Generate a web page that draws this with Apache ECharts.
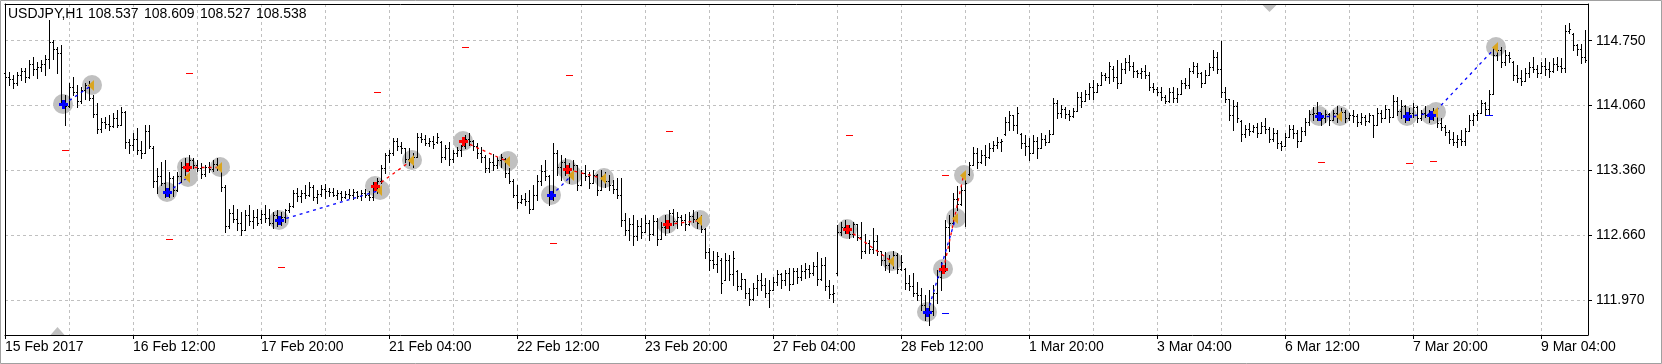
<!DOCTYPE html>
<html><head><meta charset="utf-8">
<script src="https://cdn.jsdelivr.net/npm/echarts@6/dist/echarts.min.js"></script>
<style>html,body{margin:0;padding:0;background:#fff}#c{width:1662px;height:364px}</style>
</head><body><div id="c"></div>
<script>
const symbolName = 'USDJPY,H1';
const headerQuotes = ['108.537', '108.609', '108.527', '108.538'];
const xTickLabels = ['15 Feb 2017', '16 Feb 12:00', '17 Feb 20:00', '21 Feb 04:00', '22 Feb 12:00', '23 Feb 20:00', '27 Feb 04:00', '28 Feb 12:00', '1 Mar 20:00', '3 Mar 04:00', '6 Mar 12:00', '7 Mar 20:00', '9 Mar 04:00'];
const barsPerLabel = 32;
const barsPerGridLine = 16;
const yTickValues = [111.970, 112.660, 113.360, 114.060, 114.750];
const yMin = 111.5947, yMax = 115.1435;

// hourly bars: [open, high, low, close]
const bars = [
/*0*/ [114.40,114.44,114.31,114.36],[114.36,114.41,114.27,114.34],[114.34,114.38,114.24,114.30],[114.30,114.41,114.27,114.38],[114.38,114.46,114.33,114.42],[114.42,114.46,114.31,114.36],[114.36,114.54,114.35,114.50],[114.50,114.57,114.38,114.45],[114.45,114.52,114.35,114.47],[114.47,114.54,114.42,114.50],
/*10*/ [114.50,114.60,114.38,114.55],[114.55,114.97,114.46,114.74],[114.74,114.76,114.55,114.66],[114.66,114.68,114.40,114.62],[114.62,114.70,114.08,114.10],[114.10,114.17,113.85,114.05],[114.05,114.30,114.04,114.25],[114.25,114.36,114.17,114.20],[114.20,114.28,114.04,114.10],[114.10,114.25,114.08,114.22],
/*20*/ [114.22,114.30,114.13,114.27],[114.27,114.32,114.11,114.14],[114.14,114.17,113.93,113.96],[113.96,114.08,113.76,113.80],[113.80,113.92,113.77,113.88],[113.88,113.93,113.81,113.86],[113.86,113.95,113.79,113.84],[113.84,113.97,113.82,113.92],[113.92,114.01,113.82,113.85],[113.85,114.04,113.85,113.99],
/*30*/ [113.99,114.00,113.60,113.66],[113.66,113.70,113.55,113.63],[113.63,113.76,113.58,113.70],[113.70,113.81,113.54,113.58],[113.58,113.68,113.49,113.55],[113.55,113.85,113.55,113.78],[113.78,113.85,113.60,113.62],[113.60,113.62,113.18,113.25],[113.25,113.38,113.12,113.30],[113.30,113.45,113.20,113.22],
/*40*/ [113.22,113.47,113.07,113.12],[113.12,113.34,113.07,113.28],[113.28,113.30,113.09,113.15],[113.15,113.34,113.14,113.30],[113.30,113.45,113.24,113.40],[113.40,113.49,113.31,113.40],[113.40,113.52,113.36,113.47],[113.47,113.49,113.38,113.42],[113.42,113.47,113.35,113.38],[113.38,113.44,113.28,113.32],
/*50*/ [113.32,113.42,113.30,113.40],[113.40,113.45,113.34,113.37],[113.37,113.47,113.35,113.43],[113.43,113.49,113.36,113.39],[113.39,113.40,113.14,113.18],[113.18,113.20,112.70,112.76],[112.76,112.95,112.74,112.90],[112.90,112.99,112.81,112.84],[112.84,112.95,112.72,112.80],[112.80,112.91,112.67,112.72],
/*60*/ [112.72,112.93,112.72,112.88],[112.88,112.99,112.77,112.82],[112.82,112.93,112.74,112.86],[112.86,112.95,112.77,112.80],[112.84,112.93,112.80,112.89],[112.89,112.99,112.81,112.85],[112.85,112.95,112.77,112.80],[112.80,112.91,112.74,112.88],[112.88,112.93,112.76,112.83],[112.83,112.91,112.77,112.86],
/*70*/ [112.86,112.95,112.81,112.93],[112.93,113.01,112.91,112.98],[112.98,113.15,112.97,113.12],[113.12,113.17,113.03,113.08],[113.08,113.15,113.02,113.12],[113.12,113.20,113.06,113.10],[113.10,113.24,113.09,113.18],[113.18,113.20,113.04,113.07],[113.07,113.15,113.01,113.11],[113.11,113.20,113.08,113.16],
/*80*/ [113.16,113.21,113.06,113.14],[113.14,113.17,113.09,113.13],[113.13,113.17,113.08,113.10],[113.10,113.15,113.05,113.12],[113.12,113.14,113.04,113.07],[113.07,113.14,113.06,113.11],[113.11,113.16,113.06,113.10],[113.10,113.16,113.05,113.13],[113.13,113.14,113.06,113.08],[113.08,113.15,113.04,113.12],
/*90*/ [113.12,113.16,113.07,113.10],[113.10,113.14,113.04,113.07],[113.07,113.24,113.04,113.20],[113.20,113.28,113.12,113.25],[113.25,113.42,113.22,113.38],[113.38,113.55,113.33,113.52],[113.52,113.58,113.45,113.55],[113.55,113.71,113.52,113.68],[113.68,113.71,113.58,113.62],[113.62,113.66,113.55,113.60],
/*100*/ [113.60,113.60,113.45,113.48],[113.48,113.60,113.42,113.47],[113.47,113.55,113.40,113.50],[113.50,113.76,113.50,113.72],[113.72,113.76,113.66,113.70],[113.70,113.74,113.63,113.65],[113.65,113.71,113.62,113.68],[113.68,113.73,113.60,113.64],[113.66,113.76,113.65,113.72],[113.66,113.67,113.45,113.50],
/*110*/ [113.50,113.63,113.48,113.60],[113.60,113.66,113.42,113.48],[113.48,113.58,113.45,113.55],[113.55,113.61,113.51,113.58],[113.58,113.63,113.51,113.62],[113.62,113.74,113.60,113.70],[113.70,113.76,113.63,113.68],[113.68,113.69,113.58,113.62],[113.62,113.65,113.49,113.55],[113.55,113.61,113.45,113.50],
/*120*/ [113.50,113.52,113.34,113.38],[113.38,113.49,113.34,113.45],[113.45,113.54,113.36,113.42],[113.42,113.50,113.38,113.47],[113.47,113.54,113.40,113.50],[113.48,113.49,113.29,113.33],[113.33,113.39,113.22,113.25],[113.25,113.27,113.07,113.10],[113.10,113.20,112.96,113.02],[113.02,113.10,113.01,113.05],
/*130*/ [113.05,113.12,112.99,113.03],[113.03,113.15,112.90,112.95],[112.95,113.20,112.95,113.10],[113.10,113.31,113.04,113.25],[113.25,113.42,113.20,113.35],[113.35,113.47,113.26,113.30],[113.30,113.31,112.99,113.08],[113.08,113.65,113.04,113.55],[113.55,113.58,113.31,113.40],[113.40,113.52,113.26,113.45],
/*140*/ [113.45,113.49,113.31,113.38],[113.38,113.44,113.22,113.30],[113.30,113.47,113.30,113.42],[113.42,113.42,113.15,113.20],[113.20,113.36,113.20,113.33],[113.33,113.42,113.26,113.30],[113.30,113.34,113.17,113.22],[113.22,113.36,113.22,113.31],[113.31,113.32,113.10,113.15],[113.15,113.36,113.15,113.30],
/*150*/ [113.30,113.34,113.18,113.25],[113.25,113.31,113.15,113.20],[113.20,113.26,113.12,113.16],[113.16,113.28,113.06,113.10],[113.10,113.28,112.76,112.83],[112.83,112.90,112.67,112.72],[112.72,112.85,112.61,112.78],[112.78,112.88,112.56,112.66],[112.66,112.83,112.61,112.76],[112.76,112.85,112.63,112.70],
/*160*/ [112.70,112.88,112.70,112.80],[112.80,112.83,112.61,112.68],[112.68,112.88,112.67,112.82],[112.82,112.85,112.56,112.62],[112.62,112.81,112.62,112.75],[112.75,112.88,112.67,112.80],[112.80,112.93,112.70,112.90],[112.90,112.95,112.77,112.82],[112.82,112.91,112.74,112.86],[112.86,112.88,112.77,112.83],
/*170*/ [112.83,112.89,112.72,112.78],[112.78,112.91,112.77,112.87],[112.87,112.93,112.81,112.84],[112.84,112.91,112.74,112.80],[112.80,112.88,112.70,112.73],[112.73,112.74,112.42,112.48],[112.48,112.53,112.29,112.40],[112.40,112.50,112.31,112.36],[112.36,112.48,112.27,112.44],[112.40,112.42,112.05,112.15],
/*180*/ [112.18,112.47,112.18,112.40],[112.40,112.45,112.18,112.25],[112.25,112.50,112.13,112.42],[112.28,112.29,112.08,112.12],[112.12,112.26,112.09,112.20],[112.20,112.20,111.99,112.05],[112.05,112.10,111.92,111.98],[111.98,112.15,111.97,112.10],[112.10,112.24,112.02,112.18],[112.18,112.26,112.08,112.13],
/*190*/ [112.13,112.21,112.00,112.04],[112.04,112.18,111.90,112.08],[112.08,112.22,112.08,112.16],[112.16,112.29,112.13,112.25],[112.25,112.26,112.10,112.18],[112.18,112.29,112.13,112.26],[112.26,112.31,112.08,112.14],[112.14,112.31,112.14,112.28],[112.28,112.31,112.15,112.22],[112.22,112.34,112.18,112.28],
/*200*/ [112.28,112.37,112.21,112.30],[112.30,112.34,112.22,112.26],[112.26,112.38,112.24,112.33],[112.33,112.48,112.13,112.20],[112.20,112.42,112.18,112.35],[112.35,112.43,112.08,112.12],[112.12,112.18,111.99,112.03],[112.03,112.13,111.95,112.05],[112.26,112.77,112.24,112.70],[112.70,112.81,112.67,112.75],
/*210*/ [112.75,112.83,112.69,112.72],[112.72,112.77,112.64,112.68],[112.68,112.81,112.65,112.78],[112.78,112.78,112.61,112.65],[112.65,112.81,112.42,112.50],[112.50,112.68,112.47,112.58],[112.58,112.61,112.47,112.52],[112.52,112.74,112.47,112.60],[112.60,112.67,112.45,112.50],[112.50,112.50,112.34,112.40],
/*220*/ [112.40,112.48,112.29,112.35],[112.35,112.45,112.27,112.40],[112.40,112.50,112.31,112.45],[112.45,112.47,112.26,112.30],[112.30,112.45,112.29,112.38],[112.30,112.31,112.09,112.15],[112.15,112.24,112.08,112.12],[112.12,112.26,112.01,112.05],[112.05,112.16,111.97,112.02],[112.02,112.10,111.86,111.92],
/*230*/ [111.92,112.02,111.76,111.82],[111.82,112.08,111.70,111.85],[111.85,112.13,111.81,112.05],[112.05,112.29,111.94,112.22],[112.22,112.38,112.08,112.30],[112.30,112.83,112.28,112.75],[112.75,112.88,112.50,112.80],[112.80,113.12,112.78,113.05],[113.05,113.19,112.93,113.00],[113.00,113.19,112.99,113.15],
/*240*/ [113.15,113.26,112.76,113.22],[113.32,113.45,113.31,113.42],[113.42,113.61,113.42,113.55],[113.55,113.60,113.38,113.45],[113.45,113.58,113.44,113.52],[113.52,113.63,113.42,113.50],[113.50,113.65,113.49,113.60],[113.60,113.68,113.57,113.63],[113.63,113.72,113.60,113.66],[113.66,113.70,113.57,113.68],
/*250*/ [113.75,113.93,113.74,113.88],[113.88,114.00,113.79,113.95],[113.95,113.95,113.79,113.85],[113.85,114.04,113.76,113.98],[113.75,113.76,113.60,113.65],[113.65,113.74,113.52,113.62],[113.62,113.71,113.47,113.55],[113.55,113.74,113.55,113.68],[113.68,113.72,113.49,113.60],[113.60,113.76,113.60,113.70],
/*260*/ [113.70,113.74,113.63,113.66],[113.66,113.79,113.66,113.75],[113.75,114.14,113.75,114.08],[114.08,114.11,113.92,113.98],[113.98,114.06,113.93,114.02],[114.02,114.04,113.92,113.96],[113.96,114.01,113.90,113.94],[113.94,114.03,113.93,114.00],[114.00,114.20,114.00,114.15],[114.15,114.20,114.04,114.10],
/*270*/ [114.10,114.22,114.10,114.18],[114.18,114.30,114.13,114.25],[114.25,114.33,114.13,114.20],[114.20,114.30,114.20,114.27],[114.27,114.41,114.27,114.38],[114.38,114.40,114.33,114.36],[114.36,114.52,114.30,114.48],[114.45,114.48,114.32,114.36],[114.36,114.54,114.24,114.30],[114.30,114.51,114.30,114.45],
/*280*/ [114.45,114.56,114.40,114.52],[114.52,114.60,114.44,114.48],[114.48,114.52,114.36,114.42],[114.42,114.44,114.36,114.40],[114.40,114.46,114.35,114.43],[114.43,114.49,114.35,114.38],[114.38,114.41,114.22,114.25],[114.25,114.30,114.20,114.23],[114.23,114.25,114.17,114.20],[114.20,114.25,114.11,114.15],
/*290*/ [114.15,114.17,114.08,114.10],[114.10,114.24,114.09,114.20],[114.20,114.25,114.09,114.14],[114.14,114.24,114.09,114.18],[114.18,114.33,114.18,114.30],[114.30,114.35,114.24,114.27],[114.27,114.46,114.24,114.42],[114.42,114.52,114.40,114.48],[114.48,114.51,114.36,114.40],[114.40,114.41,114.25,114.30],
/*300*/ [114.30,114.44,114.30,114.38],[114.38,114.51,114.38,114.47],[114.47,114.65,114.44,114.58],[114.58,114.63,114.40,114.45],[114.45,114.75,114.15,114.20],[114.20,114.25,114.09,114.12],[114.12,114.13,113.90,113.95],[113.95,114.11,113.79,114.05],[114.05,114.09,113.88,113.92],[113.89,113.90,113.68,113.75],
/*310*/ [113.75,113.85,113.72,113.80],[113.80,113.87,113.74,113.78],[113.78,113.85,113.77,113.82],[113.82,113.87,113.72,113.76],[113.76,113.88,113.76,113.84],[113.84,113.92,113.76,113.80],[113.80,113.82,113.66,113.70],[113.70,113.81,113.68,113.76],[113.76,113.79,113.60,113.65],[113.65,113.68,113.58,113.62],
/*320*/ [113.62,113.76,113.62,113.72],[113.72,113.85,113.72,113.80],[113.80,113.85,113.71,113.76],[113.76,113.79,113.61,113.68],[113.68,113.82,113.68,113.78],[113.78,113.92,113.74,113.88],[113.88,114.01,113.85,113.96],[113.96,114.04,113.90,113.98],[113.98,114.09,113.90,113.95],[113.95,113.98,113.85,113.92],
/*330*/ [113.92,114.01,113.88,113.96],[113.96,113.97,113.85,113.90],[113.90,114.01,113.90,113.97],[113.97,114.05,113.88,113.93],[113.93,114.03,113.92,113.99],[113.99,114.01,113.88,113.92],[113.92,113.98,113.90,113.95],[113.95,114.01,113.88,113.94],[113.94,113.96,113.84,113.88],[113.88,113.97,113.86,113.93],
/*340*/ [113.93,113.95,113.85,113.89],[113.89,113.98,113.88,113.95],[113.95,113.95,113.72,113.85],[113.85,114.03,113.85,113.98],[113.98,114.01,113.88,113.92],[113.92,114.06,113.92,114.02],[114.02,114.02,113.88,113.93],[113.93,114.17,113.93,114.10],[114.10,114.15,113.95,114.00],[114.00,114.11,113.92,114.05],
/*350*/ [114.05,114.06,113.88,113.94],[113.94,114.03,113.90,113.98],[113.98,114.08,113.93,114.04],[114.04,114.05,113.88,113.92],[113.92,114.01,113.90,113.97],[113.97,114.05,113.93,113.95],[113.95,114.01,113.88,113.93],[113.93,114.03,113.90,113.96],[113.95,113.96,113.83,113.87],[113.87,113.92,113.79,113.82],
/*360*/ [113.82,113.85,113.74,113.77],[113.77,113.79,113.65,113.70],[113.70,113.77,113.63,113.66],[113.66,113.74,113.61,113.70],[113.70,113.79,113.63,113.68],[113.68,113.81,113.63,113.78],[113.78,113.95,113.78,113.90],[113.90,113.98,113.85,113.95],[113.95,114.01,113.90,113.97],[113.97,114.11,113.97,114.08],
/*370*/ [114.08,114.09,113.95,114.02],[114.02,114.22,113.95,114.18],[114.18,114.67,114.18,114.60],[114.60,114.70,114.54,114.65],[114.65,114.68,114.47,114.52],[114.52,114.65,114.49,114.60],[114.60,114.63,114.52,114.56],[114.52,114.53,114.33,114.38],[114.38,114.49,114.31,114.35],[114.35,114.44,114.27,114.32],
/*380*/ [114.32,114.46,114.32,114.40],[114.40,114.52,114.36,114.47],[114.47,114.57,114.41,114.45],[114.45,114.49,114.36,114.40],[114.40,114.52,114.40,114.48],[114.48,114.56,114.38,114.45],[114.45,114.52,114.36,114.42],[114.42,114.56,114.41,114.50],[114.50,114.57,114.44,114.48],[114.48,114.56,114.41,114.46],
/*390*/ [114.46,114.92,114.41,114.85],[114.85,114.94,114.83,114.88],[114.82,114.83,114.65,114.70],[114.70,114.72,114.60,114.66],[114.66,114.72,114.51,114.58],[114.58,114.86,114.52,114.54]
];

// trades: [side, entry bar, entry price, exit bar, exit price]
const trades = [
  ['buy', 14, 114.07, 21, 114.28],
  ['buy', 40, 113.13, 45, 113.29],
  ['sell', 45, 113.40, 53, 113.40],
  ['buy', 68, 112.83, 93, 113.15],
  ['sell', 92, 113.19, 101, 113.47],
  ['sell', 114, 113.68, 125, 113.46],
  ['buy', 136, 113.10, 141, 113.31],
  ['sell', 140, 113.37, 149, 113.28],
  ['sell', 165, 112.79, 173, 112.83],
  ['sell', 210, 112.73, 221, 112.39],
  ['buy', 230, 111.84, 237, 112.85],
  ['sell', 234, 112.30, 239, 113.31],
  ['buy', 328, 113.94, 333, 113.94],
  ['buy', 350, 113.94, 357, 113.99],
  ['buy', 356, 113.95, 372, 114.68]
];

// stop / target levels: [bar, price, kind]
const levels = [
  [15, 113.58, 'stop'], [41, 112.62, 'stop'], [46, 114.40, 'stop'], [69, 112.32, 'stop'],
  [93, 114.20, 'stop'], [115, 114.68, 'stop'], [137, 112.58, 'stop'], [141, 114.38, 'stop'],
  [166, 113.78, 'stop'], [211, 113.74, 'stop'], [235, 113.31, 'stop'], [235, 111.83, 'target'],
  [329, 113.45, 'stop'], [351, 113.44, 'stop'], [357, 113.46, 'stop'], [371, 113.95, 'target']
];

// chart shift markers: [bar, edge]
const scaleMarks = [[13, 'bottom'], [316, 'top']];

const FONT = "'Liberation Sans', Arial, sans-serif";
const BUY = '#0000ff', SELL = '#ff0000', EXIT = '#daa520', RING = '#c0c0c0';

const chart = echarts.init(document.getElementById('c'), null, {renderer: 'canvas'});

const tradeData = trades.map(t => [t[1], t[2], t[3], t[4], t[0] === 'buy' ? 1 : 0]);
function tradeCoords(api) {
  const e = api.coord([api.value(0), api.value(1)]);
  const x = api.coord([api.value(2), api.value(3)]);
  return [[Math.round(e[0]) + 2, Math.round(e[1])], [Math.round(x[0]) + 2, Math.round(x[1])]];
}

const option = {
  animation: false,
  backgroundColor: '#ffffff',
  title: {
    left: 8, top: 7, padding: 0,
    text: '{a|' + symbolName + '}' + headerQuotes.map(q => '{b|' + q + '}').join(''),
    textStyle: {
      fontFamily: FONT, fontSize: 14, fontWeight: 'normal', color: '#000',
      rich: {
        a: {fontFamily: FONT, fontSize: 14, color: '#000', width: 80},
        b: {fontFamily: FONT, fontSize: 14, color: '#000', width: 56}
      }
    }
  },
  graphic: [{
    type: 'rect', silent: true, z: -1,
    shape: {x: 0.5, y: 0.5, width: 1661, height: 363},
    style: {fill: null, stroke: '#a0a0a0', lineWidth: 1}
  }],
  grid: [
    {left: 5, right: 77, top: 4, bottom: 29},
    {left: 5, right: 74, top: 4, bottom: 29}
  ],
  xAxis: [
    {
      gridIndex: 0, type: 'category', boundaryGap: false,
      data: bars.map((b, i) => i),
      axisLine: {show: false},
      axisTick: {show: true, length: 4, interval: (i) => i % barsPerLabel === 0, lineStyle: {color: '#000'}},
      axisLabel: {
        show: true, interval: (i) => i % barsPerLabel === 0, align: 'left', margin: 5,
        color: '#000', fontFamily: FONT, fontSize: 14,
        formatter: (v, i) => xTickLabels[Math.round(i / barsPerLabel)] || ''
      },
      splitLine: {show: true, interval: (i) => i % barsPerGridLine === 0, lineStyle: {color: '#c0c0c0', type: [3, 3], width: 1}}
    },
    {gridIndex: 1, type: 'value', min: 0, max: 1, position: 'bottom', axisLine: {show: true, onZero: false, lineStyle: {color: '#000'}}, axisTick: {show: false}, axisLabel: {show: false}, splitLine: {show: false}},
    {gridIndex: 1, type: 'value', min: 0, max: 1, position: 'top', axisLine: {show: true, onZero: false, lineStyle: {color: '#000'}}, axisTick: {show: false}, axisLabel: {show: false}, splitLine: {show: false}}
  ],
  yAxis: [
    {
      gridIndex: 0, type: 'value', min: yMin, max: yMax, position: 'right', offset: 3,
      axisLine: {show: false},
      axisTick: {show: true, length: 4, customValues: yTickValues, lineStyle: {color: '#000'}},
      axisLabel: {show: true, customValues: yTickValues, margin: 8, color: '#000', fontFamily: FONT, fontSize: 14, formatter: (v) => v.toFixed(3)},
      splitLine: {show: true, lineStyle: {color: '#c0c0c0', type: [3, 3], width: 1}}
    },
    {gridIndex: 1, type: 'value', min: 0, max: 1, position: 'left', axisLine: {show: true, onZero: false, lineStyle: {color: '#000'}}, axisTick: {show: false}, axisLabel: {show: false}, splitLine: {show: false}},
    {gridIndex: 1, type: 'value', min: 0, max: 1, position: 'right', axisLine: {show: true, onZero: false, lineStyle: {color: '#000'}}, axisTick: {show: false}, axisLabel: {show: false}, splitLine: {show: false}}
  ],
  series: [
    {
      name: 'rings', type: 'custom', xAxisIndex: 0, yAxisIndex: 0, z: 1, silent: true, clip: false,
      encode: {x: [0, 2], y: [1, 3]}, data: tradeData,
      renderItem(params, api) {
        const [e, x] = tradeCoords(api);
        return {type: 'group', children: [
          {type: 'circle', shape: {cx: e[0], cy: e[1], r: 10}, style: {fill: RING}},
          {type: 'circle', shape: {cx: x[0] + 1, cy: x[1], r: 10}, style: {fill: RING}}
        ]};
      }
    },
    {
      name: 'USDJPY', type: 'custom', xAxisIndex: 0, yAxisIndex: 0, z: 2, silent: true,
      encode: {x: 0, y: [1, 2, 3, 4]},
      data: bars.map((b, i) => [i, b[0], b[1], b[2], b[3]]),
      renderItem(params, api) {
        const i = api.value(0);
        const x = Math.round(api.coord([i, api.value(1)])[0]);
        const yo = Math.round(api.coord([i, api.value(1)])[1]);
        const yh = Math.round(api.coord([i, api.value(2)])[1]);
        const yl = Math.round(api.coord([i, api.value(3)])[1]);
        const yc = Math.round(api.coord([i, api.value(4)])[1]);
        return {type: 'group', children: [
          {type: 'rect', shape: {x: x, y: yh, width: 1, height: Math.max(1, yl - yh + 1)}, style: {fill: '#000'}},
          {type: 'rect', shape: {x: x - 1, y: yo, width: 1, height: 1}, style: {fill: '#000'}},
          {type: 'rect', shape: {x: x + 1, y: yc, width: 1, height: 1}, style: {fill: '#000'}}
        ]};
      }
    },
    {
      name: 'links', type: 'custom', xAxisIndex: 0, yAxisIndex: 0, z: 3, silent: true, clip: false,
      encode: {x: [0, 2], y: [1, 3]}, data: tradeData,
      renderItem(params, api) {
        const [e, x] = tradeCoords(api);
        const col = api.value(4) === 1 ? BUY : SELL;
        return {type: 'line', shape: {x1: e[0] + 0.5, y1: e[1] + 0.5, x2: x[0] + 0.5, y2: x[1] + 0.5},
          style: {stroke: col, lineWidth: 1.3, lineDash: [3, 4]}};
      }
    },
    {
      name: 'marks', type: 'custom', xAxisIndex: 0, yAxisIndex: 0, z: 4, silent: true, clip: false,
      encode: {x: [0, 2], y: [1, 3]}, data: tradeData,
      renderItem(params, api) {
        const [e, x] = tradeCoords(api);
        const col = api.value(4) === 1 ? BUY : SELL;
        return {type: 'group', children: [
          {type: 'rect', shape: {x: e[0] - 4, y: e[1] - 1, width: 9, height: 3}, style: {fill: col}},
          {type: 'rect', shape: {x: e[0] - 1, y: e[1] - 4, width: 3, height: 9}, style: {fill: col}},
          {type: 'polygon', shape: {points: [[x[0] + 3, x[1] - 5], [x[0] + 3, x[1] + 6], [x[0] - 3, x[1] + 0.5]]}, style: {fill: EXIT}}
        ]};
      }
    },
    {
      name: 'levels', type: 'custom', xAxisIndex: 0, yAxisIndex: 0, z: 4, silent: true, clip: false,
      encode: {x: 0, y: 1}, data: levels.map(l => [l[0], l[1], l[2] === 'stop' ? 0 : 1]),
      renderItem(params, api) {
        const p = api.coord([api.value(0), api.value(1)]);
        const x = Math.round(p[0]), y = Math.round(p[1]);
        return {type: 'rect', shape: {x: x - 3, y: y, width: 7, height: 1}, style: {fill: api.value(2) === 1 ? BUY : SELL}};
      }
    },
    {
      name: 'shift', type: 'custom', xAxisIndex: 0, yAxisIndex: 0, z: 4, silent: true, clip: false,
      encode: {x: 0}, data: scaleMarks.map(m => [m[0], m[1] === 'top' ? 1 : 0]),
      renderItem(params, api) {
        const top = api.value(1) === 1;
        const p = api.coord([api.value(0), top ? yMax : yMin]);
        const x = Math.round(p[0]) + 0.5, y = Math.round(p[1]);
        const pts = top ? [[x - 7, y + 1], [x + 7, y + 1], [x, y + 8]] : [[x - 7, y], [x + 7, y], [x, y - 8]];
        return {type: 'polygon', shape: {points: pts}, style: {fill: RING}};
      }
    }
  ]
};
chart.setOption(option);
</script>
</body></html>
